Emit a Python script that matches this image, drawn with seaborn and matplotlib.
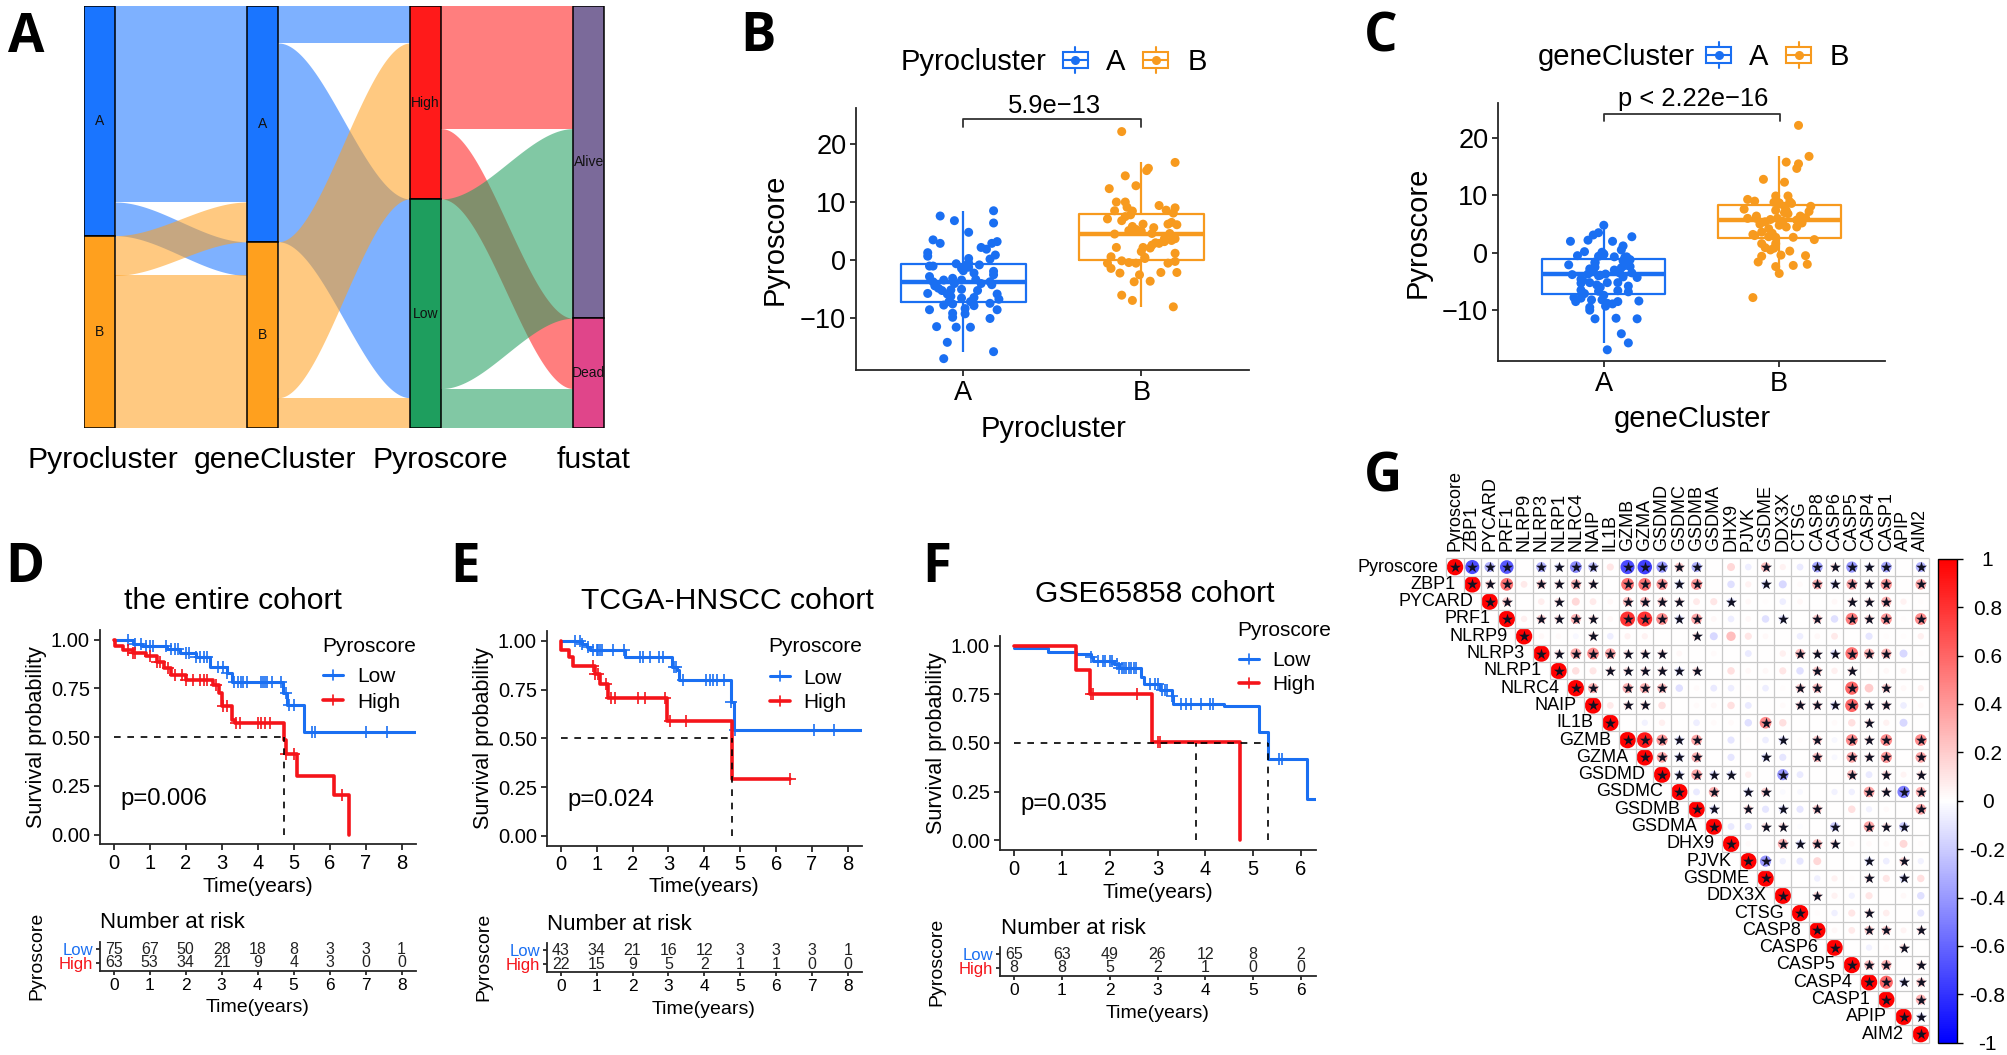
import numpy as np
import pandas as pd
import matplotlib
matplotlib.use("Agg")
import matplotlib.pyplot as plt
from matplotlib.cm import ScalarMappable
from matplotlib.colors import LinearSegmentedColormap, Normalize
from matplotlib.patches import Rectangle
import seaborn as sns

W, H = 2008, 1055
BLUE = "#1a6ff2"
ORANGE = "#f79a1e"
RED = "#f5141a"

# --- panel A: patient counts per alluvium
sankey_columns = ["Pyrocluster", "geneCluster", "Pyroscore", "fustat"]
sankey_strata = [["A", "B"], ["A", "B"], ["High", "Low"], ["Alive", "Dead"]]
sankey_colors = {"A": "#1a75ff", "B": "#ffa01e", "High": "#ff1a1a", "Low": "#1e9e5e",
                 "Alive": "#7b6a9a", "Dead": "#e0458a"}
flows_1 = [("A", "A", 64), ("A", "B", 11), ("B", "A", 13), ("B", "B", 50)]
flows_2 = [("A", "High", 12), ("A", "Low", 65), ("B", "High", 51), ("B", "Low", 10)]
flows_3 = [("High", "Alive", 40), ("High", "Dead", 23), ("Low", "Alive", 62), ("Low", "Dead", 13)]

# --- panel B: jittered points
pyro_a_jit = [-0.13, -0.05, 0.17, 0.17, 0.03, -0.17, -0.13, 0.19, 0.16, 0.10, 0.13, -0.20, -0.20, 0.18, 0.15, 0.03,
              -0.04, 0.09, -0.19, -0.17, 0.01, -0.01, 0.02, 0.03, 0.00, 0.06, 0.17, 0.17, -0.19, -0.06, -0.17, -0.11,
              0.07, 0.15, 0.16, -0.16, -0.12, -0.01, -0.07, 0.08, -0.20, -0.07, 0.06, -0.01, 0.19, 0.20, 0.15, -0.11,
              -0.06, 0.06, -0.19, 0.19, -0.06, 0.01, -0.06, 0.15, -0.15, -0.04, 0.04, -0.09, 0.17, -0.11,
              -0.09, -0.14, -0.01, -0.05, 0.01, -0.08, 0.04, 0.10, 0.03]
pyro_a_val = [7.6, 6.8, 8.5, 6.4, 4.8, 3.5, 2.9, 3.2, 2.9, 2.2, 1.9, 1.3, 0.7, 0.9, 0.2, 0.3,
              -0.6, -0.8, -1.0, -1.0, -1.1, -1.4, -0.8, -0.5, -1.8, -2.2, -1.9, -2.5, -2.8, -3.1, -3.7, -3.4,
              -3.3, -3.7, -4.2, -4.4, -5.2, -5.0, -5.1, -5.2, -5.7, -6.2, -6.4, -6.5, -5.8, -6.7, -7.4, -7.7,
              -7.5, -7.8, -8.5, -8.5, -9.1, -9.2, -9.8, -10.0, -11.4, -11.5, -11.5, -14.1, -15.7, -16.9,
              -5.8, -4.8, -3.4, -4.0, -8.3, -7.1, -7.1, -4.0, -1.2]
pyro_b_jit = [-0.11, 0.19, 0.04, 0.03, -0.09, -0.03, -0.18, -0.14, -0.09, 0.10, -0.08, 0.19, -0.15, 0.14, 0.18, -0.06,
              -0.09, -0.19, -0.11, 0.01, 0.17, 0.20, 0.15, -0.05, 0.07, -0.07, -0.15, 0.06, 0.16, 0.19, 0.13, 0.17,
              0.10, 0.06, 0.01, -0.14, 0.05, 0.00, 0.19, -0.17, 0.02, -0.11, -0.07, -0.03, -0.19, 0.19, 0.15, -0.17,
              -0.12, 0.11, 0.20, -0.01, 0.05, -0.04, -0.11, -0.05, 0.18,
              0.02, -0.05, 0.13, 0.00, -0.03, 0.08]
pyro_b_val = [22.1, 16.8, 15.8, 15.4, 14.5, 12.8, 12.3, 10.0, 10.0, 9.4, 9.1, 9.0, 8.5, 8.6, 8.1, 7.8,
              7.5, 7.1, 6.8, 6.2, 6.5, 6.1, 6.2, 5.8, 5.6, 5.1, 4.5, 4.6, 4.6, 3.7, 3.2, 3.4,
              2.9, 2.6, 2.2, 2.2, 2.1, 1.5, 1.2, 0.6, 0.3, -0.1, -0.4, -0.5, -0.5, -0.2, -0.5, -1.4,
              -2.2, -2.1, -2.1, -2.5, -3.6, -3.7, -6.0, -6.9, -8.0,
              0.5, 8.45, 3.7, 5.0, 5.3, 3.0]

# --- panel C: jittered points
gene_a_jit = [0.0, -0.03, -0.06, -0.09, -0.19, 0.05, 0.16, 0.11, 0.10, -0.11, -0.15, 0.0, -0.03, 0.06, 0.13, 0.15,
              -0.05, -0.2, 0.13, 0.10, 0.15, -0.07, -0.09, -0.18, 0.16, -0.02, 0.01, 0.11, 0.19, -0.13, -0.08, 0.02,
              0.08, -0.13, -0.04, 0.14, -0.13, -0.03, 0.08, 0.14, -0.11, 0.0, -0.17, -0.13, -0.07, -0.16, -0.01, 0.08,
              0.20, 0.02, 0.05, 0.01, -0.08, -0.08, -0.05, 0.07, 0.19, 0.10, 0.14, 0.02,
              0.0, -0.02, 0.12, -0.01, 0.11, -0.05, 0.12, -0.08, 0.06, -0.06, 0.14, -0.05, 0.09, -0.03, -0.02, -0.12]
gene_a_val = [4.8, 3.5, 3.1, 2.2, 2.0, 2.0, 2.8, 1.2, 0.5, 0.2, -0.5, -0.2, -0.6, -0.7, -0.7, -1.2,
              -1.6, -2.1, -2.1, -2.6, -2.4, -3.3, -3.7, -3.8, -3.5, -3.9, -3.7, -4.2, -4.3, -4.6, -5.2, -5.2,
              -5.2, -5.3, -5.6, -5.8, -6.5, -6.7, -6.6, -6.8, -7.1, -7.4, -7.8, -7.9, -8.2, -8.5, -8.2, -8.5,
              -8.4, -8.8, -8.9, -9.3, -10.0, -9.5, -11.5, -11.4, -11.5, -14.1, -15.7, -16.9,
              -0.3, -0.5, -0.8, 0.1, -1.4, -1.8, -2.2, -2.8, -3.0, -3.2, -1.1, -2.5, -3.5, -4.0, -6.0, -4.8]
gene_b_jit = [0.11, 0.17, 0.04, 0.11, 0.10, -0.09, 0.03, -0.02, 0.05, -0.18, -0.14, 0.0, 0.18, 0.03, -0.2, -0.02,
              0.04, 0.17, 0.05, -0.13, 0.12, -0.18, -0.13, 0.10, 0.15, -0.11, 0.0, 0.04, 0.10, -0.06, -0.04, -0.14,
              -0.02, 0.08, 0.20, -0.10, -0.02, -0.08, -0.03, -0.05, 0.06, 0.01, -0.10, 0.15, -0.12, 0.16, 0.08, -0.02,
              0.0, -0.15,
              -0.05, 0.02, 0.07, 0.13, -0.08, -0.01, 0.0, 0.03, -0.15, -0.06, -0.1, 0.06, -0.03]
gene_b_val = [22.2, 16.8, 15.8, 15.5, 14.7, 12.8, 12.3, 9.9, 9.9, 9.3, 9.0, 8.7, 8.1, 8.1, 7.6, 7.4,
              7.4, 7.2, 6.8, 6.4, 6.4, 6.0, 6.0, 5.7, 6.1, 5.0, 4.8, 4.5, 4.5, 4.2, 3.4, 3.0,
              2.7, 2.7, 2.3, 1.6, 1.6, 0.9, 0.8, 0.5, 0.3, -0.4, -0.6, -0.5, -1.6, -2.0, -2.2, -2.4,
              -3.6, -7.8,
              5.8, 5.5, 8.6, 5.2, 5.4, 6.0, 8.5, 7.0, 3.2, 2.8, 3.6, 8.9, 8.8]

# --- panels D, E, F: survival curves, censor times, number at risk
d_low_t = [0, 0.55, 0.8, 1.47, 1.84, 2.3, 2.68, 3.14, 3.3, 4.7, 4.82, 5.29, 8.4]
d_low_s = [1.0, 0.98, 0.97, 0.95, 0.93, 0.91, 0.858, 0.827, 0.785, 0.725, 0.665, 0.525, 0.525]
d_high_t = [0, 0.03, 0.25, 0.55, 0.9, 1.2, 1.4, 1.6, 2.0, 2.75, 2.93, 3.0, 3.3, 3.37, 4.72, 4.78, 5.1, 6.13, 6.55]
d_high_s = [1.0, 0.97, 0.947, 0.93, 0.916, 0.887, 0.853, 0.82, 0.793, 0.767, 0.725, 0.66, 0.588, 0.574, 0.485, 0.414, 0.303, 0.203, 0.0]
d_low_cens = [0.4, 0.6, 0.75, 0.9, 1.0, 1.1, 1.45, 1.6, 1.7, 1.8, 2.0, 2.1, 2.3, 2.4, 2.5, 2.6, 2.9, 3.05, 3.15,
              3.35, 3.45, 3.55, 3.6, 3.7, 4.1, 4.15, 4.2, 4.25, 4.4, 4.65, 4.8, 4.87, 5.0, 5.5, 5.6, 7.0, 7.6]
d_high_cens = [0.4, 0.55, 0.6, 1.0, 1.2, 1.3, 1.5, 1.7, 1.9, 2.0, 2.2, 2.4, 2.5, 2.6, 2.85, 3.05, 3.15, 3.4, 3.5,
               4.0, 4.1, 4.2, 4.35, 4.78, 5.0, 6.35]
d_risk_low = [75, 67, 50, 28, 18, 8, 3, 3, 1]
d_risk_high = [63, 53, 34, 21, 9, 4, 3, 0, 0]

e_low_t = [0, 0.6, 0.72, 0.82, 1.8, 3.1, 3.23, 3.3, 4.75, 4.84, 8.4]
e_low_s = [1.0, 0.985, 0.967, 0.955, 0.916, 0.865, 0.848, 0.797, 0.686, 0.544, 0.544]
e_high_t = [0, 0.02, 0.22, 0.35, 0.95, 1.1, 1.33, 2.97, 4.78, 6.39]
e_high_s = [1.0, 0.955, 0.916, 0.869, 0.831, 0.776, 0.706, 0.587, 0.293, 0.293]
e_low_cens = [0.4, 0.55, 0.6, 0.75, 0.9, 1.0, 1.05, 1.1, 1.15, 1.45, 1.75, 2.2, 2.3, 2.5, 2.75, 2.85, 3.15, 3.2, 3.4,
              4.05, 4.15, 4.25, 4.35, 4.55, 4.75, 4.85, 7.05, 7.6]
e_high_cens = [0.9, 0.95, 1.05, 1.25, 1.4, 1.5, 2.15, 2.35, 2.9, 3.05, 3.5, 6.39]
e_risk_low = [43, 34, 21, 16, 12, 3, 3, 3, 1]
e_risk_high = [22, 15, 9, 5, 2, 1, 1, 0, 0]

f_low_t = [0, 0.72, 1.3, 1.6, 1.65, 2.1, 2.2, 2.65, 2.72, 3.05, 3.3, 3.33, 4.4, 5.12, 5.3, 6.12, 6.31]
f_low_s = [0.99, 0.97, 0.957, 0.944, 0.923, 0.906, 0.886, 0.838, 0.804, 0.773, 0.744, 0.698, 0.689, 0.556, 0.416, 0.21, 0.21]
f_high_t = [0, 1.29, 1.59, 2.89, 4.72]
f_high_s = [1.0, 0.875, 0.753, 0.503, 0.0]
f_low_cens = [1.6, 1.75, 1.85, 1.9, 2.0, 2.05, 2.15, 2.2, 2.25, 2.3, 2.35, 2.4, 2.45, 2.5, 2.55, 2.85, 2.95, 3.0,
              3.1, 3.15, 3.2, 3.3, 3.5, 3.6, 3.7, 3.9, 4.1, 4.15, 5.55, 5.6]
f_high_cens = [1.6, 1.65, 2.58, 3.0, 3.05]
f_risk_low = [65, 63, 49, 26, 12, 8, 2]
f_risk_high = [8, 8, 5, 2, 1, 0, 0]

# --- panel G: upper triangle, each row starts on the diagonal
genes = ["Pyroscore", "ZBP1", "PYCARD", "PRF1", "NLRP9", "NLRP3", "NLRP1", "NLRC4", "NAIP", "IL1B", "GZMB", "GZMA",
         "GSDMD", "GSDMC", "GSDMB", "GSDMA", "DHX9", "PJVK", "GSDME", "DDX3X", "CTSG", "CASP8", "CASP6", "CASP5",
         "CASP4", "CASP1", "APIP", "AIM2"]
corr_rows = [
    [1, -.7, -.3, -.65, 0, -.3, -.12, -.45, -.25, .1, -.7, -.75, -.4, .2, -.3, 0, .15, -.07, .25, .05, -.08, -.35, .12, -.4, -.1, -.35, 0, -.3],
    [1, .15, .55, .08, .2, .12, .3, .12, 0, .55, .55, .4, -.12, .4, 0, -.12, .05, -.12, -.15, .02, .3, -.12, .35, .12, .4, 0, .35],
    [1, .2, 0, .07, .12, .15, .08, .03, .25, .25, .2, .12, .08, .1, -.12, .03, .01, -.07, .03, 0, .03, .12, .12, .3, .05, .01],
    [1, .06, .18, .12, .3, .12, .03, .8, .8, .45, -.12, .35, .03, -.07, .03, -.12, -.12, 0, .2, -.12, .5, .15, .4, .01, .45],
    [1, .03, .02, -.03, .12, -.07, .05, .05, 0, 0, .12, -.15, .25, .1, .03, 0, -.07, .03, .08, 0, -.1, .01, .01, .06],
    [1, .12, .35, .45, .35, .12, .12, .12, .03, 0, .02, 0, -.08, 0, .06, .25, .12, -.12, .55, .3, .3, -.15, .01],
    [1, .12, .1, .12, .12, .12, .12, -.12, .12, 0, .12, .03, .03, .1, -.12, .2, .06, .12, .01, .03, .04, 0],
    [1, .3, 0, .3, .3, .25, -.12, .02, -.08, -.07, .01, -.07, .01, .18, .25, 0, .6, .2, .2, .03, .05],
    [1, .08, .12, .12, .12, 0, .02, .03, .12, -.08, 0, .02, .15, .15, -.12, .6, .12, .15, -.07, .02],
    [1, 0, -.05, .06, 0, -.07, .02, .02, -.12, .45, .12, 0, 0, .02, .12, .12, .05, -.15, 0],
    [1, .9, .4, -.12, .35, 0, -.1, .01, -.07, -.12, .01, .2, -.03, .45, .12, .45, 0, .45],
    [1, .35, -.12, .3, 0, -.1, 0, -.12, -.1, 0, .25, -.03, .35, .12, .4, 0, .35],
    [1, -.12, .35, -.12, -.12, .06, 0, -.4, -.08, 0, 0, .25, -.08, .15, .04, .12],
    [1, -.08, .3, 0, -.12, .18, -.02, -.03, 0, -.05, -.06, .35, .12, -.5, .3],
    [1, -.12, 0, .15, -.1, -.12, -.1, .2, 0, .12, -.05, .02, 0, .35],
    [1, -.08, -.1, .12, .12, -.01, 0, -.2, 0, .35, .12, -.2, 0],
    [1, .02, 0, .3, -.12, .25, .12, .02, .02, .02, .15, .01],
    [1, -.4, -.06, -.1, .15, 0, 0, -.12, -.07, .15, -.05],
    [1, 0, 0, -.06, .05, .01, .12, .1, -.12, .12],
    [1, 0, .15, .05, -.05, .1, 0, .03, -.12],
    [1, .01, -.06, .1, .12, .07, 0, -.1],
    [1, .03, .08, .2, .2, .04, .12],
    [1, 0, -.05, .01, .12, 0],
    [1, .25, .3, 0, .12],
    [1, .6, -.12, .2],
    [1, 0, .3],
    [1, -.12],
    [1],
]
# columns that carry a significance star, per row
sig_cols = [
    [0, 1, 2, 3, 5, 6, 7, 8, 10, 11, 12, 13, 14, 18, 21, 22, 23, 24, 25, 27],
    [1, 2, 3, 5, 6, 7, 8, 10, 11, 12, 13, 14, 18, 21, 22, 23, 24, 25, 27],
    [2, 3, 6, 10, 11, 12, 13, 16, 23, 24, 25],
    [3, 5, 6, 7, 8, 10, 11, 12, 13, 14, 19, 21, 23, 24, 25, 27],
    [4, 8, 14],
    [5, 6, 7, 8, 9, 10, 11, 12, 20, 21, 22, 23, 24, 25],
    [6, 9, 10, 11, 12, 13, 14, 21, 23],
    [7, 8, 10, 11, 12, 20, 21, 23, 25],
    [8, 10, 11, 20, 21, 22, 23, 24, 25],
    [9, 18, 24],
    [10, 11, 12, 13, 14, 19, 21, 23, 24, 25, 27],
    [11, 12, 13, 14, 18, 21, 23, 24, 25, 27],
    [12, 13, 14, 15, 16, 19, 23, 25, 27],
    [13, 15, 17, 18, 24, 25, 26, 27],
    [14, 15, 17, 19, 21, 27],
    [15, 18, 19, 22, 24, 25, 26],
    [16, 19, 20, 21, 22],
    [17, 18, 24, 26],
    [18, 24, 26],
    [19, 21],
    [20, 24],
    [21, 24, 25, 27],
    [22, 26],
    [23, 24, 25, 27],
    [24, 25, 26, 27],
    [25, 27],
    [26, 27],
    [27],
]
cb_ticks = [1, 0.8, 0.6, 0.4, 0.2, 0, -0.2, -0.4, -0.6, -0.8, -1]
cb_labels = ["1", "0.8", "0.6", "0.4", "0.2", "0", "-0.2", "-0.4", "-0.6", "-0.8", "-1"]

sns.set_theme(style="ticks")
plt.rcParams["font.family"] = ["Liberation Sans", "DejaVu Sans"]
plt.rcParams["axes.linewidth"] = 1.3
plt.rcParams["xtick.major.width"] = 1.1
plt.rcParams["ytick.major.width"] = 1.1
plt.rcParams["xtick.color"] = "black"
plt.rcParams["ytick.color"] = "black"

fig = plt.figure(figsize=(W / 100, H / 100), dpi=100)


def px_axes(x0, y0, x1, y1):
    return fig.add_axes([x0 / W, 1 - y1 / H, (x1 - x0) / W, (y1 - y0) / H])


over = fig.add_axes([0, 0, 1, 1], zorder=10)
over.set_xlim(0, W)
over.set_ylim(H, 0)
over.axis("off")


def put(x, y, s, size, ha="center", va="center", rotation=0):
    # text boxes include the descender, so the letters sit a little high or left of the box centre
    if rotation:
        x += 2
    else:
        y += 2
    over.text(x, y, s, fontsize=size, ha=ha, va=va, color="black", rotation=rotation)


# panel letters
for letter, lx, ly in [("A", 8, 52), ("B", 740, 51), ("C", 1364, 51), ("D", 5, 582), ("E", 450, 582),
                       ("F", 922, 582), ("G", 1364, 491)]:
    over.text(lx, ly, letter, fontsize=38, fontweight="bold", family="Open Sans", ha="left", va="baseline", color="black")

# ---------- A: alluvial
ax = px_axes(83.7, 6.3, 604.5, 428.3)
bar_w = 31.5 / 163
ax.set_xlim(-bar_w / 2, 3 + bar_w / 2)
ax.set_ylim(138, 0)
ax.axis("off")


def sankey_gap(ax, col, flows, left_strata, right_strata):
    # stack ribbons on both sides in stratum order, source colour decides the ribbon colour
    left_pos, y = {}, 0
    for a in left_strata:
        for f in [f for f in flows if f[0] == a]:
            left_pos[f[:2]] = y
            y += f[2]
    right_pos, y = {}, 0
    for b in right_strata:
        for f in [f for f in flows if f[1] == b]:
            right_pos[f[:2]] = y
            y += f[2]
    t = np.linspace(0, 1, 80)
    xs = col + bar_w / 2 + t * (1 - bar_w)
    ease = t * t * (3 - 2 * t)
    for a, b, n in flows:
        y0, y1 = left_pos[(a, b)], right_pos[(a, b)]
        top = y0 + (y1 - y0) * ease
        ax.fill_between(xs, top, top + n, color=sankey_colors[a], alpha=0.56, linewidth=0)


all_flows = [flows_1, flows_2, flows_3]
for i, fl in enumerate(all_flows):
    sankey_gap(ax, i, fl, sankey_strata[i], sankey_strata[i + 1])

for i, strata in enumerate(sankey_strata):
    source = all_flows[min(i, 2)]
    idx = 0 if i < 3 else 1
    y = 0
    for s in strata:
        n = sum(f[2] for f in source if f[idx] == s)
        ax.bar(i, n, bottom=y, width=bar_w, color=sankey_colors[s], edgecolor="black", linewidth=1.1)
        ax.text(i, y + n / 2, s, ha="center", va="center", fontsize=10, color="#111111")
        y += n

for name, lx in zip(sankey_columns, [103, 275, 440, 594]):
    put(lx, 458, name, 21.7)


# ---------- B, C: box plus jitter
def draw_box(box, a_jit, a_val, b_jit, b_val):
    ax = px_axes(*box)
    df = pd.DataFrame({
        "pos": [0] * len(a_val) + [1] * len(b_val),
        "group": ["A"] * len(a_val) + ["B"] * len(b_val),
        "jit": a_jit + b_jit,
        "score": a_val + b_val,
    })
    df["x"] = df["pos"] + df["jit"]
    sns.boxplot(data=df, x="pos", y="score", hue="group", native_scale=True, palette={"A": BLUE, "B": ORANGE},
                fill=False, width=0.7, dodge=False, showfliers=False, showcaps=False, linewidth=1.6,
                medianprops={"linewidth": 3.2}, legend=False, ax=ax)
    sns.scatterplot(data=df, x="x", y="score", hue="group", palette={"A": BLUE, "B": ORANGE}, s=42, linewidth=0,
                    legend=False, zorder=5, ax=ax)
    ax.set_xlim(-0.603, 1.603)
    ax.set_ylim(-18.85, 26.15)
    ax.set_xticks([0, 1], ["A", "B"])
    ax.set_yticks([-10, 0, 10, 20], ["\u221210", "0", "10", "20"])
    ax.tick_params(axis="both", labelsize=19.5, length=4, pad=3)
    ax.set_xlabel("")
    ax.set_ylabel("")
    sns.despine(ax=ax)
    return ax


def legend_key(cx, cy, color):
    over.add_patch(Rectangle((cx - 12.5, cy - 8), 25, 16, fill=False, edgecolor=color, linewidth=1.5))
    over.plot([cx - 12.5, cx + 12.5], [cy, cy], color=color, linewidth=1.5)
    over.plot([cx, cx], [cy - 13, cy - 8], color=color, linewidth=1.5)
    over.plot([cx, cx], [cy + 8, cy + 13], color=color, linewidth=1.5)
    over.scatter([cx], [cy], s=42, color=color, linewidth=0)


draw_box((856, 108, 1248.6, 370), pyro_a_jit, pyro_a_val, pyro_b_jit, pyro_b_val)
put(1054, 427, "Pyrocluster", 21)
put(773, 239, "Pyroscore", 21, rotation=90)
put(901, 60, "Pyrocluster", 21, ha="left")
legend_key(1075.5, 60, BLUE)
put(1106, 60, "A", 21, ha="left")
legend_key(1156, 60, ORANGE)
put(1188, 60, "B", 21, ha="left")
over.plot([963.3, 963.3, 1141.2, 1141.2], [126.7, 119.3, 119.3, 126.7], color="#333333", linewidth=1.3)
put(1054, 104, "5.9e\u221213", 18.4)

draw_box((1498, 102.7, 1885, 361), gene_a_jit, gene_a_val, gene_b_jit, gene_b_val)
put(1692, 417, "geneCluster", 21)
put(1416, 232, "Pyroscore", 21, rotation=90)
put(1537.5, 55, "geneCluster", 21, ha="left")
legend_key(1719, 55, BLUE)
put(1749, 55, "A", 21, ha="left")
legend_key(1798.6, 55, ORANGE)
put(1830, 55, "B", 21, ha="left")
over.plot([1604, 1604, 1779.6, 1779.6], [120.7, 114, 114, 120.7], color="#333333", linewidth=1.3)
put(1693, 97, "p < 2.22e\u221216", 18.4)


# ---------- D, E, F: survival
def step_at(t, s, when):
    return np.asarray(s)[np.searchsorted(t, when, side="right") - 1]


def draw_km(box, risk_box, xlim, xmax_tick, low, high, low_cens, high_cens, vlines, risk_low, risk_high):
    ax = px_axes(*box)
    sns.lineplot(x=low[0], y=low[1], drawstyle="steps-post", estimator=None, sort=False, errorbar=None,
                 color=BLUE, linewidth=2.2, ax=ax)
    sns.lineplot(x=high[0], y=high[1], drawstyle="steps-post", estimator=None, sort=False, errorbar=None,
                 color=RED, linewidth=2.6, ax=ax)
    sns.scatterplot(x=low_cens, y=step_at(low[0], low[1], low_cens), marker="+", s=65, color=BLUE, linewidth=1.2, ax=ax)
    sns.scatterplot(x=high_cens, y=step_at(high[0], high[1], high_cens), marker="+", s=65, color=RED, linewidth=1.2, ax=ax)
    ax.plot([0, max(vlines)], [0.5, 0.5], color="black", linewidth=1.2, linestyle=(0, (4, 4)))
    for v in vlines:
        ax.plot([v, v], [0, 0.5], color="black", linewidth=1.2, linestyle=(0, (4, 4)))
    ax.set_xlim(*xlim)
    ax.set_ylim(-0.05, 1.05)
    ax.set_xticks(range(xmax_tick + 1))
    ax.set_yticks([0, 0.25, 0.5, 0.75, 1], ["0.00", "0.25", "0.50", "0.75", "1.00"])
    ax.tick_params(axis="both", labelsize=14.5, length=4, pad=3)
    sns.despine(ax=ax)

    rx = px_axes(*risk_box)
    rx.set_xlim(*xlim)
    rx.set_ylim(0.4, 2.55)
    for i, (a, b) in enumerate(zip(risk_low, risk_high)):
        rx.text(i, 2, str(a), ha="center", va="center", fontsize=11.5, color="#222222")
        rx.text(i, 1, str(b), ha="center", va="center", fontsize=11.5, color="#222222")
    rx.set_xticks(range(xmax_tick + 1))
    rx.set_yticks([1, 2], ["High", "Low"])
    rx.tick_params(axis="x", labelsize=12.5, length=3, pad=2)
    rx.tick_params(axis="y", labelsize=12, length=3, pad=2)
    rx.get_yticklabels()[0].set_color(RED)
    rx.get_yticklabels()[1].set_color(BLUE)
    sns.despine(ax=rx)


def km_text(title, tx, ty, p, px_, py_, ylab_x, surv_y, rs_y, xlab_x, xlab_y, leg_x, leg_y, key_x, text_x, key1, key2,
            num_x, num_y, xlab2_y):
    put(tx, ty, title, 21.7)
    put(px_, py_, p, 17.2, ha="left")
    put(ylab_x, surv_y, "Survival probability", 15.6, rotation=90)
    put(xlab_x, xlab_y, "Time(years)", 15)
    put(leg_x, leg_y, "Pyroscore", 15, ha="left")
    for yy, col, lab, lw in [(key1, BLUE, "Low", 2.2), (key2, RED, "High", 2.6)]:
        over.plot([key_x, key_x + 20], [yy, yy], color=col, linewidth=lw)
        over.plot([key_x + 10, key_x + 10], [yy - 5, yy + 5], color=col, linewidth=1.2)
        put(text_x, yy, lab, 15, ha="left")
    put(num_x, num_y, "Number at risk", 16, ha="left")
    put(ylab_x, rs_y, "Pyroscore", 14, rotation=90)
    put(xlab_x, xlab2_y, "Time(years)", 14)


draw_km((99.7, 630, 416, 844.3), (99.7, 942, 416, 970.7), (-0.389, 8.4), 8, (d_low_t, d_low_s), (d_high_t, d_high_s),
        d_low_cens, d_high_cens, [4.72], d_risk_low, d_risk_high)
km_text("the entire cohort", 233, 599, "p=0.006", 120.7, 796.7, 35, 737, 956, 258, 884, 322, 644, 323, 357, 675, 700,
        100, 921, 1006)

draw_km((546.7, 631, 862.3, 845.7), (546.7, 943, 862.3, 972.3), (-0.39, 8.4), 8, (e_low_t, e_low_s), (e_high_t, e_high_s),
        e_low_cens, e_high_cens, [4.78], e_risk_low, e_risk_high)
km_text("TCGA-HNSCC cohort", 727, 599, "p=0.024", 567.7, 797.7, 482, 738, 957, 704, 885, 768, 645, 770, 803, 676, 701,
        547, 922, 1007)

draw_km((999.7, 636, 1315.7, 850), (999.7, 947, 1315.7, 976), (-0.3, 6.307), 6, (f_low_t, f_low_s), (f_high_t, f_high_s),
        f_low_cens, f_high_cens, [3.81, 5.32], f_risk_low, f_risk_high)
km_text("GSE65858 cohort", 1155, 592, "p=0.035", 1020.7, 801.7, 935, 743, 962, 1158, 890, 1237, 628, 1239, 1272, 659, 683,
        1001, 927, 1012)

# ---------- G: correlation dots
n = len(genes)
gx = px_axes(1446.4, 558.4, 1929.4, 1042.8)
blank = pd.DataFrame(np.zeros((n, n)), index=genes, columns=genes)
mask = np.tril(np.ones((n, n), dtype=bool), k=-1)
sns.heatmap(blank, mask=mask, cmap="bwr", vmin=-1, vmax=1, cbar=False, yticklabels=False, xticklabels=genes, ax=gx)
gx.xaxis.tick_top()
gx.tick_params(axis="x", length=0, pad=5, labelsize=13, rotation=90)

# staircase grid, only around the upper triangle
for k in range(n + 1):
    gx.hlines(k, max(k - 1, 0), n, color="#c9c9c9", linewidth=0.9, clip_on=False)
    gx.vlines(k, 0, min(k + 1, n), color="#c9c9c9", linewidth=0.9, clip_on=False)

cells = []
for r, row in enumerate(corr_rows):
    for k, val in enumerate(row):
        col = r + k
        cells.append({"x": col + 0.5, "y": r + 0.5, "r": val, "abs": abs(val), "sig": col in sig_cols[r]})
cells = pd.DataFrame(cells)
bwr = LinearSegmentedColormap.from_list("corr", ["#0000ff", "#ffffff", "#ff0000"])
sns.scatterplot(data=cells, x="x", y="y", hue="r", hue_norm=(-1, 1), palette=bwr, size="abs", size_norm=(0, 1),
                sizes=(14, 141), linewidth=0, legend=False, ax=gx)
sns.scatterplot(data=cells[cells["sig"]], x="x", y="y", marker="*", s=70, color="#111122", linewidth=0, legend=False, ax=gx)
gx.set_xlim(0, n)
gx.set_ylim(n, 0)
gx.set_xlabel("")
gx.set_ylabel("")
for r, name in enumerate(genes):
    gx.text(r - 0.46, r + 0.5, name, ha="right", va="center", fontsize=13, color="black")

cax = px_axes(1938, 558.7, 1957, 1042.7)
cb = fig.colorbar(ScalarMappable(norm=Normalize(-1, 1), cmap=bwr), cax=cax, ticks=cb_ticks)
cb.outline.set_edgecolor("black")
cb.outline.set_linewidth(1.0)
cax.set_yticklabels(cb_labels, ha="center")
cax.tick_params(axis="y", length=4, width=1, pad=18, labelsize=15)

fig.savefig("out.png", dpi=100)
